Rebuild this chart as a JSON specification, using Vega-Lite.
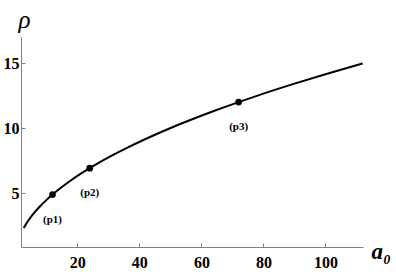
{
  "$schema": "https://vega.github.io/schema/vega-lite/v6.json",
  "width": 342,
  "height": 210,
  "autosize": "none",
  "padding": {"left": 21, "top": 37, "right": 33, "bottom": 25},
  "config": {
    "view": {"stroke": null},
    "font": "Liberation Serif",
    "axis": {
      "grid": false,
      "domainColor": "#808080",
      "tickColor": "#808080",
      "labelFont": "Liberation Serif",
      "labelFontWeight": "bold",
      "labelFontSize": 16,
      "labelColor": "#000000",
      "titleFont": "Liberation Serif",
      "titleColor": "#000000"
    }
  },
  "datasets": {
    "curve": [
      {"a0": 2.7, "rho": 2.324},
      {"a0": 3.5, "rho": 2.646},
      {"a0": 4, "rho": 2.828},
      {"a0": 5, "rho": 3.162},
      {"a0": 6, "rho": 3.464},
      {"a0": 8, "rho": 4.0},
      {"a0": 10, "rho": 4.472},
      {"a0": 12, "rho": 4.899},
      {"a0": 15, "rho": 5.477},
      {"a0": 18, "rho": 6.0},
      {"a0": 21, "rho": 6.481},
      {"a0": 24, "rho": 6.928},
      {"a0": 28, "rho": 7.483},
      {"a0": 32, "rho": 8.0},
      {"a0": 36, "rho": 8.485},
      {"a0": 42, "rho": 9.165},
      {"a0": 48, "rho": 9.798},
      {"a0": 56, "rho": 10.583},
      {"a0": 64, "rho": 11.314},
      {"a0": 72, "rho": 12.0},
      {"a0": 80, "rho": 12.649},
      {"a0": 90, "rho": 13.416},
      {"a0": 100, "rho": 14.142},
      {"a0": 112, "rho": 14.967}
    ],
    "points": [
      {"a0": 12, "rho": 4.899, "label": "(p1)"},
      {"a0": 24, "rho": 6.928, "label": "(p2)"},
      {"a0": 72, "rho": 12.0, "label": "(p3)"}
    ]
  },
  "encoding": {
    "x": {
      "field": "a0", "type": "quantitative",
      "scale": {"domain": [1.84, 112.1], "nice": false, "zero": false},
      "axis": {
        "values": [20, 40, 60, 80, 100],
        "tickSize": -4,
        "labelPadding": 11,
        "title": "a₀",
        "titleFontSize": 23,
        "titleFontStyle": "italic",
        "titleFontWeight": "bold",
        "titleAlign": "left",
        "titleBaseline": "alphabetic",
        "titleX": 350,
        "titleY": 11
      }
    },
    "y": {
      "field": "rho", "type": "quantitative",
      "scale": {"domain": [0.87, 17.0], "nice": false, "zero": false},
      "axis": {
        "values": [5, 10, 15],
        "tickSize": -4,
        "labelPadding": 6,
        "title": "ρ",
        "titleAngle": 0,
        "titleFontSize": 25,
        "titleFontStyle": "italic",
        "titleFontWeight": "normal",
        "titleAlign": "center",
        "titleBaseline": "alphabetic",
        "titleX": 3,
        "titleY": -10
      }
    }
  },
  "layer": [
    {
      "data": {"name": "curve"},
      "mark": {"type": "line", "color": "#000000", "strokeWidth": 2, "interpolate": "monotone"}
    },
    {
      "data": {"name": "points"},
      "mark": {"type": "point", "filled": true, "color": "#000000", "size": 45, "opacity": 1}
    },
    {
      "data": {"name": "points"},
      "mark": {"type": "text", "dy": 25, "fontSize": 11, "fontWeight": "bold", "font": "Liberation Serif", "color": "#000000", "baseline": "middle", "align": "center"},
      "encoding": {"text": {"field": "label"}}
    }
  ]
}
